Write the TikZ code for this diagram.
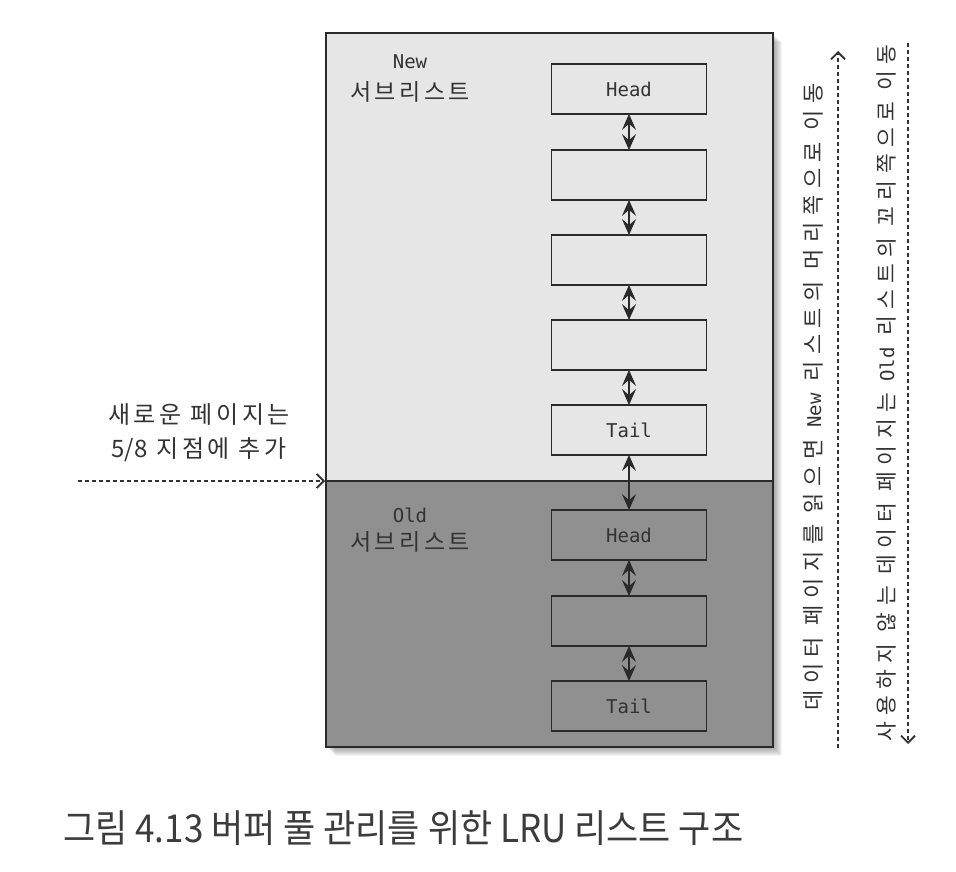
\documentclass[tikz,border=0pt]{standalone}
\usepackage{fontspec}
\usepackage{graphicx}
\newfontfamily\krfont{Noto Sans CJK KR}
\newfontfamily\krwide[LetterSpace=30]{Noto Sans CJK KR}
\newfontfamily\krmid[LetterSpace=15]{Noto Sans CJK KR}
\newfontfamily\monofnt{DejaVu Sans Mono}
\usetikzlibrary{arrows.meta}
\definecolor{toplight}{HTML}{E6E6E6}
\definecolor{botdark}{HTML}{909090}
\definecolor{boxline}{HTML}{2A2A2A}
\definecolor{txt}{HTML}{333333}
\definecolor{captxt}{HTML}{3C3C3C}
\tikzset{
  lbox/.style={draw=boxline, line width=1.8pt, minimum width=155pt, minimum height=50pt,
    inner sep=0pt, font=\fontsize{19}{22}\selectfont\monofnt, text=txt},
  link/.style={draw=boxline, line width=1.6pt, shorten <=-1pt, shorten >=-1pt,
    {Stealth[length=16pt,width=14pt,inset=6pt]}-{Stealth[length=16pt,width=14pt,inset=6pt]}},
  dasharrow/.style={draw=txt, line width=1.4pt, dash pattern=on 4pt off 3pt},
  barbtip/.style={-{Straight Barb[length=7pt,width=14pt,line width=1.8pt]}},
  sublabel/.style={text=txt, align=center, inner sep=0pt},
  sidetext/.style={text=txt, inner sep=0pt, rotate=90, font=\fontsize{22}{26}\selectfont\krwide}
}
\begin{document}
\begin{tikzpicture}[x=1pt,y=-1pt]
\useasboundingbox (0,0) rectangle (956,872);
\fill[white] (0,0) rectangle (956,872);
% shadow
\foreach \d in {1,...,9} {
  \fill[black,opacity=0.045] (326+\d,33+\d) rectangle (773+\d,747+\d);
}
% panels
\fill[toplight] (326,33) rectangle (773,481);
\fill[botdark] (326,481) rectangle (773,747);
\draw[boxline, line width=2pt] (326,33) rectangle (773,747);
\draw[boxline, line width=2pt] (326,481) -- (773,481);
% sublist labels
\node[sublabel, font=\fontsize{19}{22}\selectfont\monofnt] (newlab) at (410,62) {New};
\node[sublabel, font=\fontsize{23}{26}\selectfont\krmid] (newsub) at (410,92) {서브리스트};
\node[sublabel, font=\fontsize{19}{22}\selectfont\monofnt] (oldlab) at (410,515) {Old};
\node[sublabel, font=\fontsize{23}{26}\selectfont\krmid] (oldsub) at (410,542) {서브리스트};
% list boxes
\node[lbox] (n1) at (629,89) {Head};
\node[lbox] (n2) at (629,175) {};
\node[lbox] (n3) at (629,260) {};
\node[lbox] (n4) at (629,345) {};
\node[lbox] (n5) at (629,430) {Tail};
\node[lbox] (o1) at (629,535) {Head};
\node[lbox] (o2) at (629,621) {};
\node[lbox] (o3) at (629,706) {Tail};
\draw[link] (n1) -- (n2);
\draw[link] (n2) -- (n3);
\draw[link] (n3) -- (n4);
\draw[link] (n4) -- (n5);
\draw[link] (n5) -- (o1);
\draw[link] (o1) -- (o2);
\draw[link] (o2) -- (o3);
% left insertion note
\node[sublabel, font=\fontsize{24}{34}\selectfont\krmid] (ins) at (199,433) {새로운 페이지는\\{\krfont 5/8} 지점에 추가};
\coordinate (insstart) at (78,481);
\coordinate (insend) at (325,481);
\draw[dasharrow, barbtip] (insstart) -- (insend);
% right side arrows
\coordinate (a1s) at (838,748);
\coordinate (a1e) at (838,51);
\draw[dasharrow, barbtip] (a1s) -- (a1e);
\coordinate (a2s) at (908,43);
\coordinate (a2e) at (908,744);
\draw[dasharrow, barbtip] (a2s) -- (a2e);
\node[sidetext] (t1) at (813,397) {데이터 페이지를 읽으면 {\fontsize{19}{22}\selectfont\monofnt New} 리스트의 머리쪽으로 이동};
\node[sidetext, font=\fontsize{21.5}{26}\selectfont\krwide] (t2) at (886,393) {사용하지 않는 데이터 페이지는 {\fontsize{19}{22}\selectfont\monofnt Old} 리스트의 꼬리쪽으로 이동};
% caption
\node[anchor=west, inner sep=0pt, text=captxt, font=\fontsize{35}{38}\selectfont\krfont] (cap) at (63,828)
  {\scalebox{1}[1.1]{그림 4.13 버퍼 풀 관리를 위한 LRU 리스트 구조}};
\end{tikzpicture}
\end{document}
